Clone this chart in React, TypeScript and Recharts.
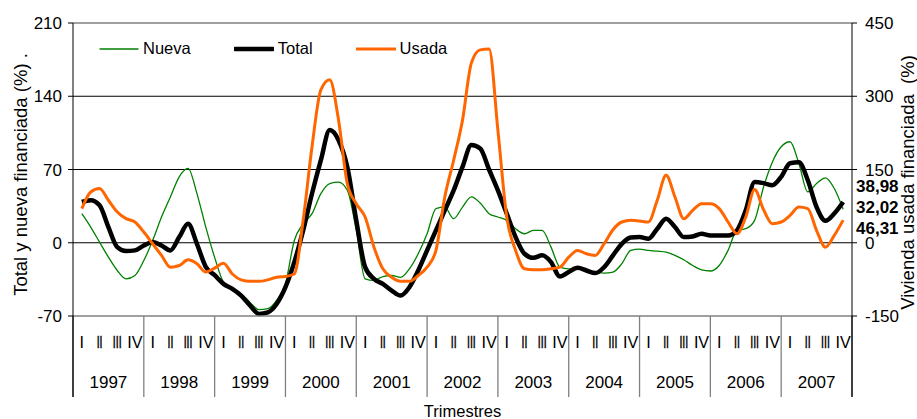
import React from 'react'
import { LineChart, Line, XAxis, YAxis, ReferenceLine, Legend } from 'recharts'

const years = ['1997', '1998', '1999', '2000', '2001', '2002', '2003', '2004', '2005', '2006', '2007']
const quarters = ['I', 'II', 'III', 'IV']

// one value every half quarter, from 1997 I to 2007 IV
const total = [
  39, 40.6, 35.8, 15, -4.2, -8, -7.3, -2.6, 0.6, -2.6, -7.3, 5.4, 18.2, -1, -23, -31,
  -39.3, -44, -50.5, -60, -68, -66.5, -58.5, -42.5, -18.5, 11.8, 47, 79, 107.7, 98, 72,
  21.4, -23.3, -34.5, -39.3, -45.7, -50.5, -42.5, -26.5, -7.3, 11.8, 31, 50, 72.5, 93.3,
  90, 70, 50, 27.8, 5.4, -10.5, -14.4, -12, -18.5, -32.3, -28, -24, -26.5, -29, -23.3, -12,
  -1, 5, 5.4, 3.8, 13.4, 23, 15, 5.4, 6, 8.6, 7, 7, 7, 11.8, 31, 58, 57, 55, 63, 76, 77,
  60, 34, 21, 28, 39,
]
const nueva = [
  27.8, 15, 0.6, -13.7, -26.5, -34.5, -31.3, -17, 2.2, 24.6, 43.8, 63, 71, 47, 15, -14,
  -37.7, -44, -49, -57, -64, -63, -55, -39, 2.2, 18, 27.8, 47, 56.6, 58, 50, 12, -34.5,
  -36, -32.3, -31.3, -33, -25, -10.5, 8.6, 32.6, 34, 23, 34, 43.8, 38, 27.8, 24.6, 21.4,
  13.4, 8.6, 11.8, 11.8, -4.2, -23.3, -25, -25, -26.5, -28, -29, -28, -20, -7.3, -6, -7.3,
  -8, -9, -12, -16.3, -21.7, -26, -27, -21.7, -7.3, 11.8, 13.4, 21.4, 53, 77, 91.7, 96.5,
  75.7, 48.6, 56.6, 62, 51.8, 32,
]
const usada = [
  70, 104, 111, 87, 63, 49.3, 42.5, 22, -2, -26, -50, -46.6, -35, -43, -60, -52, -42, -64,
  -76, -79, -79, -76, -70.6, -69, -64, 46, 196.6, 313, 333.6, 251, 120, 80, 52.7, -9,
  -53.4, -70.6, -79, -79, -67, -50, -15.8, 93.8, 169, 251, 368, 395, 397, 230, 52.7, -15.8,
  -53.4, -55.5, -55.5, -53.4, -50, -29.5, -15.8, -22.6, -26, -2, 26.7, 42.5, 46, 44.5, 42.5,
  87, 138, 93.8, 49.3, 66.4, 80, 80, 69.9, 42.5, 18.5, 52.7, 109, 68, 39, 42.5, 56, 73, 70,
  25, -9, 15, 46.3,
]

const finales = ['38,98', '32,02', '46,31']

const leftTicks = [-70, 0, 70, 140, 210]
const rightTicks = [-150, 0, 150, 300, 450]
const gridLines = [0, 70, 140]

const rows = total.map((v, i) => ({ t: 0.5 + i * 0.5, total: v, nueva: nueva[i], usada: usada[i] }))

const xTicks = [
  ...years.flatMap((_, y) => [y * 4, y * 4 + 2]),
  years.length * 4,
  ...years.flatMap((_, y) => quarters.map((_, q) => y * 4 + q + 0.5)),
].sort((a, b) => a - b)

const font = '"Liberation Sans", Arial, sans-serif'
const fs = 17

const series = [
  { key: 'nueva', name: 'Nueva', color: '#008000', width: 1.3 },
  { key: 'total', name: 'Total', color: '#000000', width: 4.5 },
  { key: 'usada', name: 'Usada', color: '#FF6600', width: 3 },
]

function TickTrimestre({ x, y, payload }: any) {
  const v = payload.value
  if (v % 4 === 0) {
    const edge = v === 0 || v === years.length * 4
    return (
      <line x1={x} y1={y} x2={x} y2={y + 81} stroke={edge ? '#000' : '#808080'} strokeWidth={edge ? 1.5 : 1.3} />
    )
  }
  if (v % 4 === 2) {
    return (
      <text x={x} y={y + 66} dy="0.35em" textAnchor="middle" fontSize={fs} fontFamily={font} fill="#000">
        {years[(v - 2) / 4]}
      </text>
    )
  }
  const q = Math.floor(v % 4)
  const narrow = q === 1 || q === 2
  return (
    <text
      transform={`translate(${x}, ${y + 26}) scale(${narrow ? 0.62 : 0.95}, 1)`}
      dy="0.35em"
      textAnchor="middle"
      fontSize={fs}
      fontFamily={font}
      fill="#000"
      stroke="#000"
      strokeWidth={narrow ? 0.5 : 0}
    >
      {quarters[q]}
    </text>
  )
}

function Leyenda() {
  return (
    <div style={{ display: 'flex', alignItems: 'center', fontFamily: font, fontSize: 16.5, color: '#000' }}>
      {series.map((s) => (
        <div key={s.key} style={{ display: 'flex', alignItems: 'center', marginRight: 43 }}>
          <svg width={40} height={10} style={{ marginRight: 4 }}>
            <line x1={1} y1={5} x2={39} y2={5} stroke={s.color} strokeWidth={s.width} strokeLinecap="round" />
          </svg>
          <span>{s.name}</span>
        </div>
      ))}
    </div>
  )
}

function TituloIzq({ viewBox }: any) {
  const cx = viewBox.x + 21
  const cy = viewBox.y + viewBox.height / 2 + 5
  return (
    <text
      x={cx}
      y={cy}
      dy="0.35em"
      textAnchor="middle"
      transform={`rotate(-90, ${cx}, ${cy})`}
      fontSize={18.5}
      fontFamily={font}
      fill="#000"
      style={{ whiteSpace: 'pre' }}
    >
      Total y nueva financiada (%) .
    </text>
  )
}

function TituloDer({ viewBox }: any) {
  const cx = viewBox.x + 56
  const cy = viewBox.y + viewBox.height / 2 + 13
  return (
    <g>
      <text
        x={cx}
        y={cy}
        dy="0.35em"
        textAnchor="middle"
        transform={`rotate(-90, ${cx}, ${cy})`}
        fontSize={18.5}
        fontFamily={font}
        fill="#000"
        style={{ whiteSpace: 'pre' }}
      >
        {'Vivienda usada financiada  (%)'}
      </text>
      {finales.map((f, i) => (
        <text
          key={f}
          x={viewBox.x + 4}
          y={viewBox.y + 163 + i * 21}
          dy="0.35em"
          fontSize={fs}
          fontWeight="bold"
          fontFamily={font}
          fill="#000"
        >
          {f}
        </text>
      ))}
    </g>
  )
}

export default function App() {
  return (
    <div style={{ position: 'absolute', left: 0, top: 0, width: 917, height: 419, background: '#fff' }}>
      <LineChart width={917} height={419} data={rows} margin={{ top: 23, right: 0, bottom: 0, left: 0 }}>
        <XAxis
          dataKey="t"
          type="number"
          domain={[0, years.length * 4]}
          ticks={xTicks}
          interval={0}
          height={103}
          tickLine={false}
          tickSize={0}
          tickMargin={0}
          axisLine={{ stroke: '#808080', strokeWidth: 1.5 }}
          tick={<TickTrimestre />}
          label={{ value: 'Trimestres', position: 'insideBottom', offset: 2, fontSize: 16.5, fontFamily: font, fill: '#000' }}
        />
        <YAxis
          yAxisId="left"
          domain={[-70, 210]}
          ticks={leftTicks}
          width={73}
          tickSize={5}
          tickMargin={6}
          axisLine={{ stroke: '#000' }}
          tickLine={{ stroke: '#000' }}
          tick={{ fontSize: fs, fontFamily: font, fill: '#000' }}
          label={<TituloIzq />}
        />
        <YAxis
          yAxisId="right"
          orientation="right"
          domain={[-150, 450]}
          ticks={rightTicks}
          width={65}
          tickSize={5}
          tickMargin={8}
          axisLine={{ stroke: '#000' }}
          tickLine={{ stroke: '#000' }}
          tick={{ fontSize: fs, fontFamily: font, fill: '#000' }}
          label={<TituloDer />}
        />
        <ReferenceLine yAxisId="left" y={210} stroke="#808080" strokeWidth={1.5} />
        {gridLines.map((g) => (
          <ReferenceLine key={g} yAxisId="left" y={g} stroke="#000" strokeWidth={1} />
        ))}
        <Legend
          layout="horizontal"
          verticalAlign="middle"
          align="center"
          content={<Leyenda />}
          wrapperStyle={{ top: 39, left: 99, width: 'auto', height: 'auto' }}
        />
        <Line yAxisId="left" type="monotone" dataKey="nueva" name="Nueva" stroke="#008000" strokeWidth={1.3} dot={false} isAnimationActive={false} />
        <Line yAxisId="left" type="monotone" dataKey="total" name="Total" stroke="#000" strokeWidth={4.5} dot={false} isAnimationActive={false} />
        <Line yAxisId="right" type="monotone" dataKey="usada" name="Usada" stroke="#FF6600" strokeWidth={3} dot={false} isAnimationActive={false} />
      </LineChart>
    </div>
  )
}
